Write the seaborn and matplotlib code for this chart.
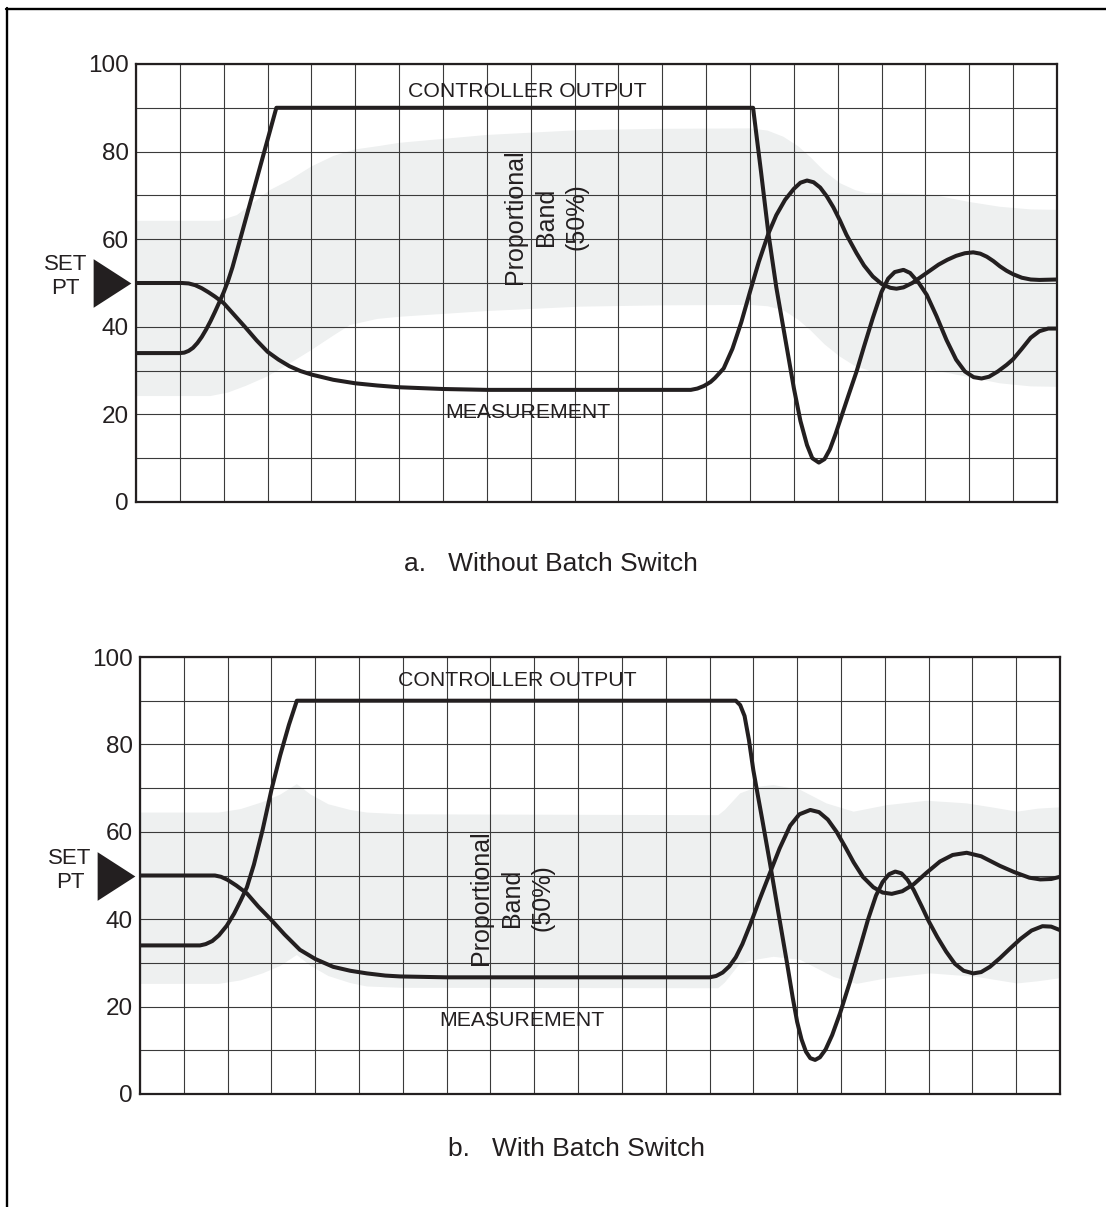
import numpy as np
import pandas as pd
import matplotlib
matplotlib.use("Agg")
import matplotlib.pyplot as plt
from matplotlib.lines import Line2D
import seaborn as sns

# ---------------- data: panel a (without batch switch) ----------------
a_out_x = [0, 1.0, 1.1, 1.2, 1.3, 1.4, 1.5, 1.6, 1.7, 1.8, 1.9, 2.0, 2.1, 2.2,
           3.2, 14.07, 14.25, 14.42, 14.6, 14.8, 15.0, 15.15, 15.3, 15.42,
           15.57, 15.7, 15.82, 15.95, 16.1, 16.25, 16.43, 16.6, 16.8, 17.0,
           17.15, 17.3, 17.5, 17.65, 17.85, 18.03, 18.25, 18.48, 18.7, 18.9,
           19.1, 19.28, 19.45, 19.65, 19.85, 20.0, 20.2, 20.4, 20.6, 20.8, 21.0]
a_out_y = [34, 34, 34.1, 34.5, 35.2, 36.3, 37.7, 39.4, 41.3, 43.4, 45.6, 47.9,
           50.5, 53.6, 90, 90, 75.5, 61.3, 49, 37.5, 26, 18.5, 13, 10,
           9, 9.8, 12, 15.5, 20, 24.5, 29.8, 35.5, 42, 48,
           51, 52.5, 53, 52.3, 50, 47.3, 42.5, 37, 32.5, 29.8,
           28.5, 28.2, 28.6, 29.8, 31.3, 32.6, 35, 37.5, 39, 39.6, 39.6]

a_meas_x = [0, 1.05, 1.2, 1.35, 1.5, 1.65, 1.8, 2.0, 2.25, 2.5, 2.75, 3.0,
            3.25, 3.5, 3.75, 4.0, 4.5, 5.0, 5.5, 6.0, 7.0, 8.0, 12.65, 12.8,
            12.95, 13.1, 13.2, 13.4, 13.6, 13.8, 14.0, 14.2, 14.42, 14.6, 14.8,
            15.0, 15.15, 15.3, 15.45, 15.6, 15.75, 15.9, 16.05, 16.2, 16.43,
            16.6, 16.8, 17.0, 17.2, 17.34, 17.5, 17.7, 17.9, 18.1, 18.3, 18.5,
            18.7, 18.9, 19.09, 19.25, 19.4, 19.55, 19.7, 19.85, 20.0, 20.2,
            20.4, 20.6, 21.0]
a_meas_y = [50, 50, 49.9, 49.5, 48.8, 47.9, 46.9, 45.4, 42.6, 39.8, 36.9, 34.3,
            32.5, 31.0, 29.9, 29.1, 27.9, 27.1, 26.6, 26.2, 25.8, 25.6, 25.6, 25.9,
            26.5, 27.4, 28.3, 30.5, 35, 41, 48, 54.8, 61.3, 65.5, 69,
            71.5, 72.9, 73.4, 73, 71.8, 69.8, 67.3, 64.3, 61, 56.8,
            54, 51.5, 49.8, 48.9, 48.7, 49, 50, 51.4, 52.8, 54.2, 55.3,
            56.2, 56.8, 57, 56.7, 56, 55, 53.8, 52.8, 52, 51.2,
            50.8, 50.7, 50.8]

a_band_hi_x = [0, 1.9, 2.3, 2.7, 3.05, 3.5, 4.0, 4.5, 5.0, 5.56, 6.0, 8.0, 10.12,
               12.0, 14.0, 14.4, 14.76, 15.1, 15.37, 15.7, 16.05, 16.4, 16.66,
               17.5, 18.17, 19.0, 19.7, 20.4, 21.0]
a_band_hi_y = [64.2, 64.2, 65.5, 68.5, 71.2, 73.5, 76.6, 79, 80.5, 81.3, 82, 83.8,
               84.9, 85.2, 85.3, 84.8, 83.4, 81.2, 78.8, 75.5, 72.8, 71.2, 70.5,
               70.4, 70.1, 68.5, 67.4, 66.8, 66.7]
a_band_lo_x = [0, 1.7, 2.1, 2.5, 2.98, 3.5, 4.0, 4.5, 4.88, 5.5, 6.02, 8.0, 10.12,
               12.0, 14.0, 14.4, 14.76, 15.1, 15.37, 15.7, 16.05, 16.4, 16.81,
               17.5, 18.18, 19.0, 19.7, 20.4, 21.0]
a_band_lo_y = [24.2, 24.2, 25, 26.5, 28.6, 31.6, 34.7, 38, 40.4, 41.8, 42.3, 43.6,
               44.6, 44.9, 45, 44.7, 43.8, 41.6, 39.3, 36, 33.2, 31, 29.7,
               29.9, 30.1, 28.5, 27.1, 26.4, 26.3]

# ---------------- data: panel b (with batch switch) ----------------
b_out_x = [0, 1.37, 1.5, 1.65, 1.8, 1.98, 2.15, 2.3, 2.44, 2.6, 2.8, 3.0, 3.2,
           3.4, 3.58, 13.6, 13.7, 13.8, 13.9, 14.0, 14.1, 14.2, 14.38, 14.58,
           14.76, 14.9, 15.0, 15.1, 15.2, 15.3, 15.41, 15.52, 15.65, 15.8,
           15.98, 16.2, 16.44, 16.62, 16.8, 16.95, 17.1, 17.24, 17.38, 17.52,
           17.66, 17.85, 18.0, 18.2, 18.4, 18.6, 18.8, 19.02, 19.2, 19.4,
           19.63, 19.85, 20.1, 20.35, 20.6, 20.8, 21.0]
b_out_y = [34, 34, 34.3, 35, 36.3, 38.5, 41.3, 44.3, 47.3, 52.5, 60.5, 69.6, 77.5,
           84.5, 90, 90, 89, 86.5, 81, 74.1, 68.5, 63, 52.8, 41,
           30.5, 22, 16.5, 12.5, 9.7, 8.2, 7.8, 8.4, 10.2, 13.5,
           18.5, 25.5, 33.7, 40, 45.4, 48.5, 50.3, 50.9, 50.5, 49,
           46.7, 42.8, 39.6, 35.9, 32.6, 29.8, 28.2, 27.6, 27.9, 29.1,
           31.1, 33.2, 35.5, 37.4, 38.4, 38.3, 37.5]

b_meas_x = [0, 1.71, 1.85, 2.0, 2.2, 2.44, 2.7, 3.0, 3.3, 3.65, 4.0, 4.41, 4.8,
            5.18, 5.6, 5.94, 7.0, 13.0, 13.15, 13.3, 13.45, 13.6, 13.75, 13.93,
            14.15, 14.38, 14.6, 14.84, 15.05, 15.3, 15.5, 15.7, 15.9, 16.1,
            16.29, 16.5, 16.74, 16.95, 17.16, 17.4, 17.66, 17.95, 18.26, 18.55,
            18.87, 19.2, 19.63, 19.95, 20.3, 20.55, 20.8, 21.0]
b_meas_y = [50, 50, 49.7, 49, 47.7, 45.9, 42.9, 39.8, 36.5, 33, 30.9, 29.1, 28.2,
            27.6, 27.1, 26.9, 26.7, 26.7, 27, 27.8, 29.2, 31.3, 34.3, 38.8,
            44.7, 50.6, 56.2, 61.4, 64, 65, 64.5, 62.8, 60, 56.5,
            53, 49.7, 47.3, 46.1, 45.8, 46.4, 48, 50.6, 53.2, 54.7,
            55.2, 54.4, 52.2, 50.8, 49.5, 49.1, 49.2, 49.7]

b_band_hi_x = [0, 1.8, 2.3, 2.8, 3.2, 3.58, 3.9, 4.3, 4.8, 5.18, 6.0, 13.2, 13.35,
               13.7, 14.1, 14.46, 15.07, 15.67, 16.29, 17.05, 17.96, 18.87, 19.5,
               20.02, 20.5, 21.0]
b_band_hi_y = [64.4, 64.4, 65.2, 66.8, 68.5, 70.9, 68.5, 66.3, 65, 64.4, 64, 63.8,
               65, 68.8, 70.3, 70.7, 69.6, 66.5, 64.6, 66.1, 67.1, 66.5, 65.5,
               64.6, 65.3, 65.6]
b_band_lo_x = [0, 1.8, 2.3, 2.8, 3.2, 3.58, 3.9, 4.3, 4.8, 5.18, 6.0, 13.2, 13.35,
               13.7, 14.1, 14.46, 15.07, 15.83, 16.36, 17.05, 18.04, 19.1, 20.02,
               20.5, 21.0]
b_band_lo_y = [25.2, 25.2, 26, 27.6, 29.3, 31.8, 29.3, 27, 25.4, 24.6, 24.3, 24.2,
               25.5, 29.9, 30.8, 31.4, 30.7, 26.8, 25.2, 26.5, 27.6, 26.8, 25.3,
               25.8, 26.5]

set_point = 50
y_ticks = [0, 20, 40, 60, 80, 100]
y_minor = [10, 30, 50, 70, 90]
n_cols = 21

INK = "#231f20"
BAND = "#eef0f0"

sns.set_theme(style="white")
plt.rcParams["font.family"] = ["Liberation Sans", "DejaVu Sans"]

fig = plt.figure(figsize=(11.06, 12.07), dpi=100)

panels = [
    dict(rect=[136 / 1106, 1 - 502 / 1207, 921 / 1106, 438 / 1207],
         out=(a_out_x, a_out_y), meas=(a_meas_x, a_meas_y),
         hi=(a_band_hi_x, a_band_hi_y), lo=(a_band_lo_x, a_band_lo_y),
         co_pos=(8.92, 93.7), me_pos=(8.93, 20.4), pb_pos=(9.35, 65.1),
         setpt_pos=(-1.6, 51.4),
         caption="a.   Without Batch Switch", cap_xy=(550.5, 564)),
    dict(rect=[140 / 1106, 1 - 1094 / 1207, 920 / 1106, 437 / 1207],
         out=(b_out_x, b_out_y), meas=(b_meas_x, b_meas_y),
         hi=(b_band_hi_x, b_band_hi_y), lo=(b_band_lo_x, b_band_lo_y),
         co_pos=(8.62, 94.6), me_pos=(8.71, 16.9), pb_pos=(8.49, 44.9),
         setpt_pos=(-1.6, 51.2),
         caption="b.   With Batch Switch", cap_xy=(576.7, 1149)),
]

# right-pointing set-point marker, a bit narrower than tall
tri = [(-0.776, -1.0), (-0.776, 1.0), (0.776, 0.0), (-0.776, -1.0)]

for p in panels:
    ax = fig.add_axes(p["rect"])
    ax.set_xlim(0, n_cols)
    ax.set_ylim(0, 100)

    # proportional band
    hx, hy = p["hi"]
    lx, ly = p["lo"]
    ax.fill(list(hx) + list(lx)[::-1], list(hy) + list(ly)[::-1],
            color=BAND, lw=0, zorder=0)

    # grid
    ax.set_xticks(range(0, n_cols + 1))
    ax.set_xticklabels([])
    ax.set_yticks(y_ticks)
    ax.set_yticks(y_minor, minor=True)
    ax.set_yticklabels([str(v) for v in y_ticks], fontsize=17.5, color=INK)
    ax.tick_params(axis="both", which="both", length=0, pad=5)
    ax.grid(True, which="both", color="#3a3a3a", lw=0.8)
    ax.set_axisbelow(False)
    for gl in ax.get_xgridlines() + ax.get_ygridlines():
        gl.set_zorder(1)
    for s in ax.spines.values():
        s.set_color(INK)
        s.set_linewidth(1.6)
        s.set_zorder(5)

    df_out = pd.DataFrame({"t": p["out"][0], "v": p["out"][1]})
    df_meas = pd.DataFrame({"t": p["meas"][0], "v": p["meas"][1]})
    sns.lineplot(data=df_out, x="t", y="v", ax=ax, color=INK, lw=2.9,
                 sort=False, estimator=None, zorder=4)
    sns.lineplot(data=df_meas, x="t", y="v", ax=ax, color=INK, lw=2.9,
                 sort=False, estimator=None, zorder=4)
    ax.set_xlabel("")
    ax.set_ylabel("")
    for ln in ax.lines:
        ln.set_solid_capstyle("butt")
        ln.set_solid_joinstyle("round")

    ax.text(*p["co_pos"], "CONTROLLER OUTPUT", ha="center", va="center",
            fontsize=15.3, color=INK, zorder=6)
    ax.text(*p["me_pos"], "MEASUREMENT", ha="center", va="center",
            fontsize=15.3, color=INK, zorder=6)
    ax.text(*p["pb_pos"], "Proportional\nBand\n(50%)", ha="center",
            va="center", rotation=90, multialignment="center",
            linespacing=1.35, fontsize=18, color=INK, zorder=6)

    # set point marker and label
    ax.plot([-0.55], [set_point], marker=tri, ms=35, color=INK, mew=0,
            clip_on=False, zorder=6)
    ax.text(*p["setpt_pos"], "SET\nPT", ha="center", va="center",
            multialignment="center", fontsize=16, color=INK,
            clip_on=False)

    cx, cy = p["cap_xy"]
    fig.text(cx / 1106, 1 - cy / 1207, p["caption"], ha="center",
             va="center", fontsize=19, color=INK)

# frame lines along the top and left of the sheet
fig.add_artist(Line2D([6 / 1106, 1.0], [1 - 9 / 1207, 1 - 9 / 1207],
                      transform=fig.transFigure, color="black", lw=1.7))
fig.add_artist(Line2D([7 / 1106, 7 / 1106], [0.0, 1 - 8 / 1207],
                      transform=fig.transFigure, color="black", lw=1.7))

fig.savefig("out.png", dpi=100, facecolor="white")
